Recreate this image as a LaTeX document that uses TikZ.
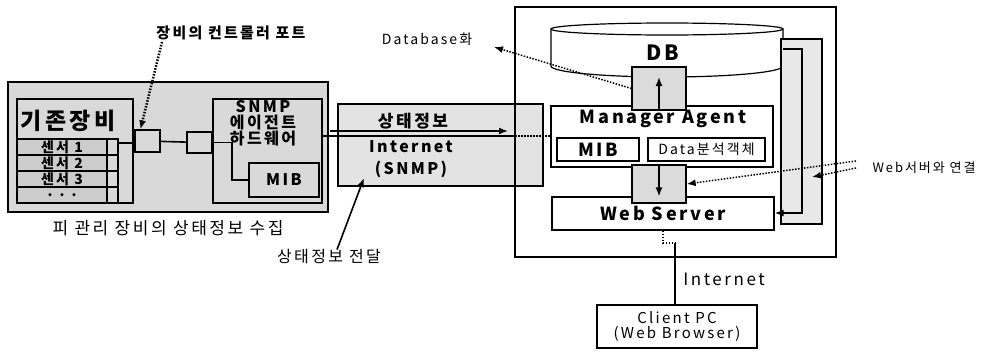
\documentclass[tikz,border=0pt]{standalone}
\usepackage{fontspec}
\setmainfont{Noto Sans CJK KR}
\newfontfamily\ko{Noto Sans CJK KR}[LetterSpace=15]
\usetikzlibrary{arrows.meta}
\newcommand\fsz[2]{\fontsize{#1}{#2}\selectfont}
\newcommand\rowdots{. . .}
\tikzset{
  box/.style={draw, line width=1.2pt, inner sep=0pt, fill=white},
  graybox/.style={box, fill=gray!30},
  wire/.style={line width=1.6pt},
  dotwire/.style={line width=1.5pt, dash pattern=on 1.5pt off 1.5pt},
  tip/.style={-{Latex[length=9pt,width=7pt]}},
  txt/.style={inner sep=0pt, font=\ko\fsz{13}{15}},
  btxt/.style={inner sep=0pt, font=\ko\bfseries\fsz{16}{16}}
}
\begin{document}
\begin{tikzpicture}[x=1pt,y=-1pt]
  \useasboundingbox (0,0) rectangle (1000,351);
  % managed device
  \node[graybox, minimum width=320, minimum height=130] (device) at (168,147) {};
  \node[graybox, minimum width=116, minimum height=104] (legacy) at (75,151) {};
  \node[btxt, font=\ko\bfseries\fsz{23}{23}] (legacytitle) at (68,121) {기존장비};
  \foreach \txt [count=\i] in {센서 1, 센서 2, 센서 3, \rowdots} {
    \node[graybox, fill=gray!40, minimum width=90, minimum height=16,
      font=\ko\bfseries\fsz{14}{14}] (row\i) at (62,131+16*\i) {\txt};
    \node[graybox, minimum width=11, minimum height=16] (stub\i) at (112.5,131+16*\i) {};
  }
  \node[graybox, minimum width=15, minimum height=60] (bar) at (125.5,173) {};
  \node[graybox, minimum width=25, minimum height=22] (port) at (147.5,141) {};
  \node[graybox, minimum width=25, minimum height=21] (link) at (199.5,142.5) {};
  \node[graybox, minimum width=109, minimum height=104] (snmp) at (267.5,151) {};
  \node[btxt, align=center] (snmptxt) at (263,123) {SNMP\\에이전트\\하드웨어};
  \node[graybox, minimum width=70, minimum height=34, btxt] (snmpmib) at (284,180) {MIB};
  \coordinate (hwbend) at (232,142.5);
  \draw[wire] (port) -- (link);
  \draw[wire] (link.east) -- (hwbend) |- (snmpmib.west);
  % internet
  \node[graybox, fill=gray!22, minimum width=205, minimum height=82] (inet) at (440.5,145) {};
  \node[btxt, font=\ko\bfseries\fsz{17}{17}] (statetxt) at (413,121) {상태정보};
  \node[btxt, font=\ko\bfseries\fsz{16}{22}, align=center] (inettxt) at (411,159) {Internet\\(SNMP)};
  % manager side
  \node[draw, line width=1.4pt, minimum width=321, minimum height=250] (frame) at (675.5,132) {};
  \draw[line width=1.2pt, fill=white] (551,29) -- (551,66)
    arc[start angle=180, end angle=0, x radius=116, y radius=11] -- (783,29);
  \draw[line width=1.2pt, fill=white] (667,29) ellipse[x radius=116, y radius=6];
  \node[btxt, font=\ko\bfseries\fsz{21}{21}] (dbtxt) at (663,53) {DB};
  \node[box, minimum width=222, minimum height=61] (manager) at (662,136.5) {};
  \node[btxt, font=\ko\bfseries\fsz{18}{18}] (mgrtxt) at (663,119) {Manager Agent};
  \node[box, minimum width=82, minimum height=23, btxt, font=\ko\bfseries\fsz{18}{18}] (mgrmib) at (598,149.5) {MIB};
  \node[box, minimum width=117, minimum height=23, txt, font=\ko\fsz{14}{14}] (analysis) at (706.5,149.5) {Data분석객체};
  \node[box, minimum width=222, minimum height=33, btxt, font=\ko\bfseries\fsz{18}{18}] (webserver) at (663,213.5) {Web Server};
  \node[graybox, fill=gray!28, minimum width=54, minimum height=43] (upbox) at (659,88.5) {};
  \node[graybox, fill=gray!28, minimum width=54, minimum height=38] (downbox) at (659,184) {};
  \node[graybox, fill=gray!18, minimum width=41, minimum height=185] (strip) at (801.5,131.5) {};
  \coordinate (dbin) at (659,77);
  \coordinate (dbright) at (783,49);
  \coordinate (stripturn) at (802,213);
  \draw[wire, tip] (upbox.south) -- (dbin);
  \draw[wire, tip] (downbox.north) -- (downbox.north |- webserver.north);
  \draw[wire, tip] (dbright) -| (stripturn) -- (webserver.east |- stripturn);
  % status flow
  \coordinate (snmpout) at (322,136);
  \coordinate (framein) at (515,136);
  \coordinate (statefrom) at (330,131);
  \coordinate (stateto) at (508,131);
  \draw[wire] (snmpout) -- (framein);
  \draw[dotwire] (framein) -- (manager.west |- framein);
  \draw[wire, tip] (statefrom) -- (stateto);
  % client
  \node[box, minimum width=160, minimum height=43, txt, font=\ko\fsz{15}{15}, align=center] (client) at (677,326.5) {Client PC\\(Web Browser)};
  \node[txt, font=\ko\fsz{17}{17}] (inetlabel) at (724,279) {Internet};
  \coordinate (inetjoint) at (675,243);
  \draw[dotwire] (webserver.south) |- (inetjoint);
  \draw[wire] (inetjoint) -- (inetjoint |- client.north);
  % labels
  \node[btxt, font=\ko\bfseries\fsz{15}{15}] (portlabel) at (231,33) {장비의 컨트롤러 포트};
  \node[txt, font=\ko\fsz{17}{17}] (collect) at (168,228) {피 관리 장비의 상태정보 수집};
  \node[txt, font=\ko\fsz{16}{16}] (deliver) at (329,257) {상태정보 전달};
  \node[txt, font=\ko\fsz{14}{14}] (dblabel) at (427,39) {Database화};
  \node[txt] (weblabel) at (924,168) {Web서버와 연결};
  \coordinate (portfrom) at (162,42);
  \coordinate (deliverto) at (364,178);
  \coordinate (dbtip) at (494,47);
  \coordinate (webfork1) at (856,161);
  \coordinate (webfork2) at (856,168);
  \coordinate (stripin) at (812,177);
  \draw[dotwire, line width=2.5pt, tip] (portfrom) -- ([xshift=6pt]port.north west);
  \draw[wire, tip] ([xshift=8pt]deliver.north) -- (deliverto);
  \draw[dotwire, tip] (upbox.west) -- (dbtip);
  \draw[dotwire, tip] (webfork1) -- (downbox.east);
  \draw[dotwire, tip] (webfork2) -- (stripin);
\end{tikzpicture}
\end{document}
